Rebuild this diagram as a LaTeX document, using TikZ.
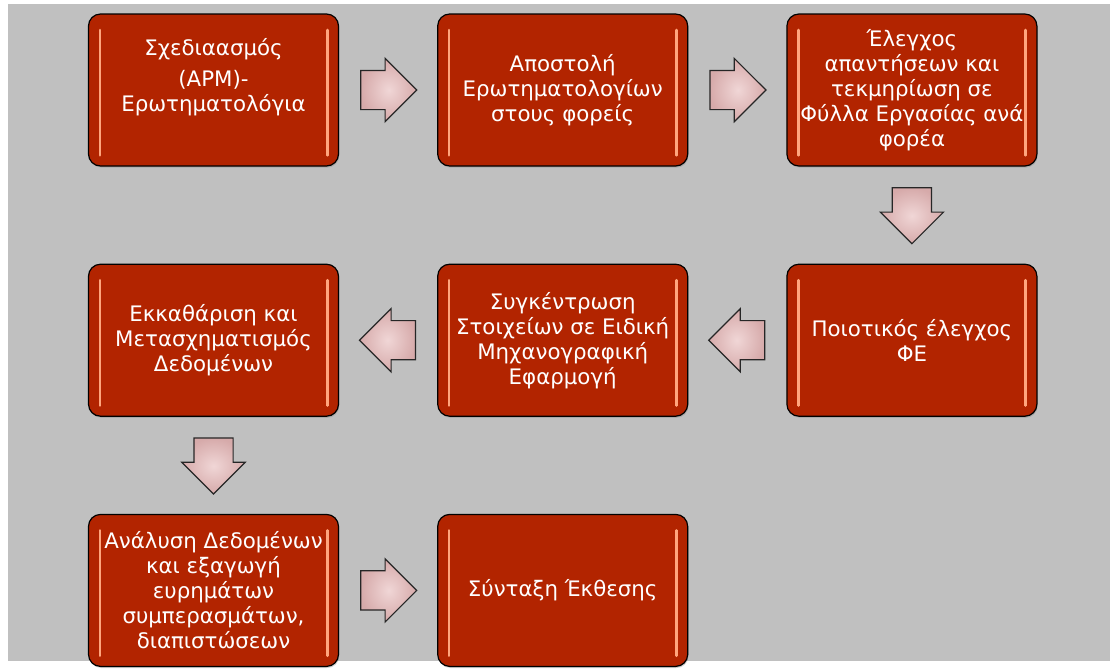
\documentclass[tikz,border=0pt]{standalone}
\usepackage{fontspec}
\setmainfont{DejaVu Sans}
\usetikzlibrary{positioning,shapes.arrows,shadows,calc}

\definecolor{bggray}{RGB}{192,192,192}
\definecolor{boxred}{RGB}{178,36,0}
\definecolor{boxedge}{RGB}{255,165,125}
\definecolor{arrowpink}{RGB}{214,170,170}
\definecolor{arrowlight}{RGB}{240,214,214}

\tikzset{
  stage/.style={rectangle, rounded corners=9pt, minimum width=187.5pt, minimum height=114pt,
    align=center, draw=black, line width=0.9pt, fill=boxred, text=white,
    font=\fontsize{16}{18.75}\selectfont,
    drop shadow={opacity=0.35, shadow xshift=0.6pt, shadow yshift=-1.2pt},
    path picture={
      \draw[boxedge, line width=2pt, line cap=round]
        ([xshift=8.5pt,yshift=-12pt]path picture bounding box.north west) --
        ([xshift=8.5pt,yshift=8pt]path picture bounding box.south west);
      \draw[boxedge, line width=2pt, line cap=round]
        ([xshift=-8.5pt,yshift=-12pt]path picture bounding box.north east) --
        ([xshift=-8.5pt,yshift=8pt]path picture bounding box.south east);
    }},
  flow/.style={single arrow, draw=black!85, line width=0.9pt, inner xsep=0pt, inner ysep=14.25pt,
    minimum height=42pt, single arrow head extend=9pt, anchor=tail,
    single arrow tip angle=90, inner color=arrowlight, outer color=arrowpink},
  flowdown/.style={flow, inner xsep=14.25pt, inner ysep=0pt, shape border rotate=270}
}

\begin{document}
\begin{tikzpicture}
% φόντο
\fill[white] (0,0) rectangle (832.5pt,-501.75pt);
\fill[bggray] (6pt,-3pt) rectangle (832.5pt,-495.75pt);

% πρώτη σειρά
\node (plan) [stage] at (160.125pt,-67.5pt) {Σχεδιαασμός\\[5pt] (APM)-\\ Ερωτηματολόγια\\[4pt]};
\node (send) [stage, right=73.5pt of plan] {Αποστολή\\ Ερωτηματολογίων\\ στους φορείς};
\node (check) [stage, right=73.5pt of send] {Έλεγχος\\ απαντήσεων και\\ τεκμηρίωση σε\\ Φύλλα Εργασίας ανά\\ φορέα};

% δεύτερη σειρά
\node (quality) [stage, below=72.75pt of check] {Ποιοτικός έλεγχος\\ ΦΕ};
\node (collect) [stage, left=73.5pt of quality] {Συγκέντρωση\\ Στοιχείων σε Ειδική\\ Μηχανογραφική\\ Εφαρμογή};
\node (clean) [stage, left=73.5pt of collect] {Εκκαθάριση και\\ Μετασχηματισμός\\ Δεδομένων};

% τρίτη σειρά
\node (analyse) [stage, below=72.75pt of clean] {Ανάλυση Δεδομένων\\ και εξαγωγή\\ ευρημάτων\\ συμπερασμάτων,\\ διαπιστώσεων};
\node (report) [stage, right=73.5pt of analyse] {Σύνταξη Έκθεσης};

% βέλη (η ουρά μισό μήκος πριν το μέσο)
\node (a1) [flow] at ($(plan.east)!0.5!(send.west)+(-21pt,0)$) {};
\node (a2) [flow] at ($(send.east)!0.5!(check.west)+(-21pt,0)$) {};
\node (a3) [flowdown] at ($(check.south)!0.5!(quality.north)+(0,21pt)$) {};
\node (a4) [flow, shape border rotate=180] at ($(quality.west)!0.5!(collect.east)+(21pt,0)$) {};
\node (a5) [flow, shape border rotate=180] at ($(collect.west)!0.5!(clean.east)+(21pt,0)$) {};
\node (a6) [flowdown] at ($(clean.south)!0.5!(analyse.north)+(0,21pt)$) {};
\node (a7) [flow] at ($(analyse.east)!0.5!(report.west)+(-21pt,0)$) {};

\end{tikzpicture}
\end{document}
